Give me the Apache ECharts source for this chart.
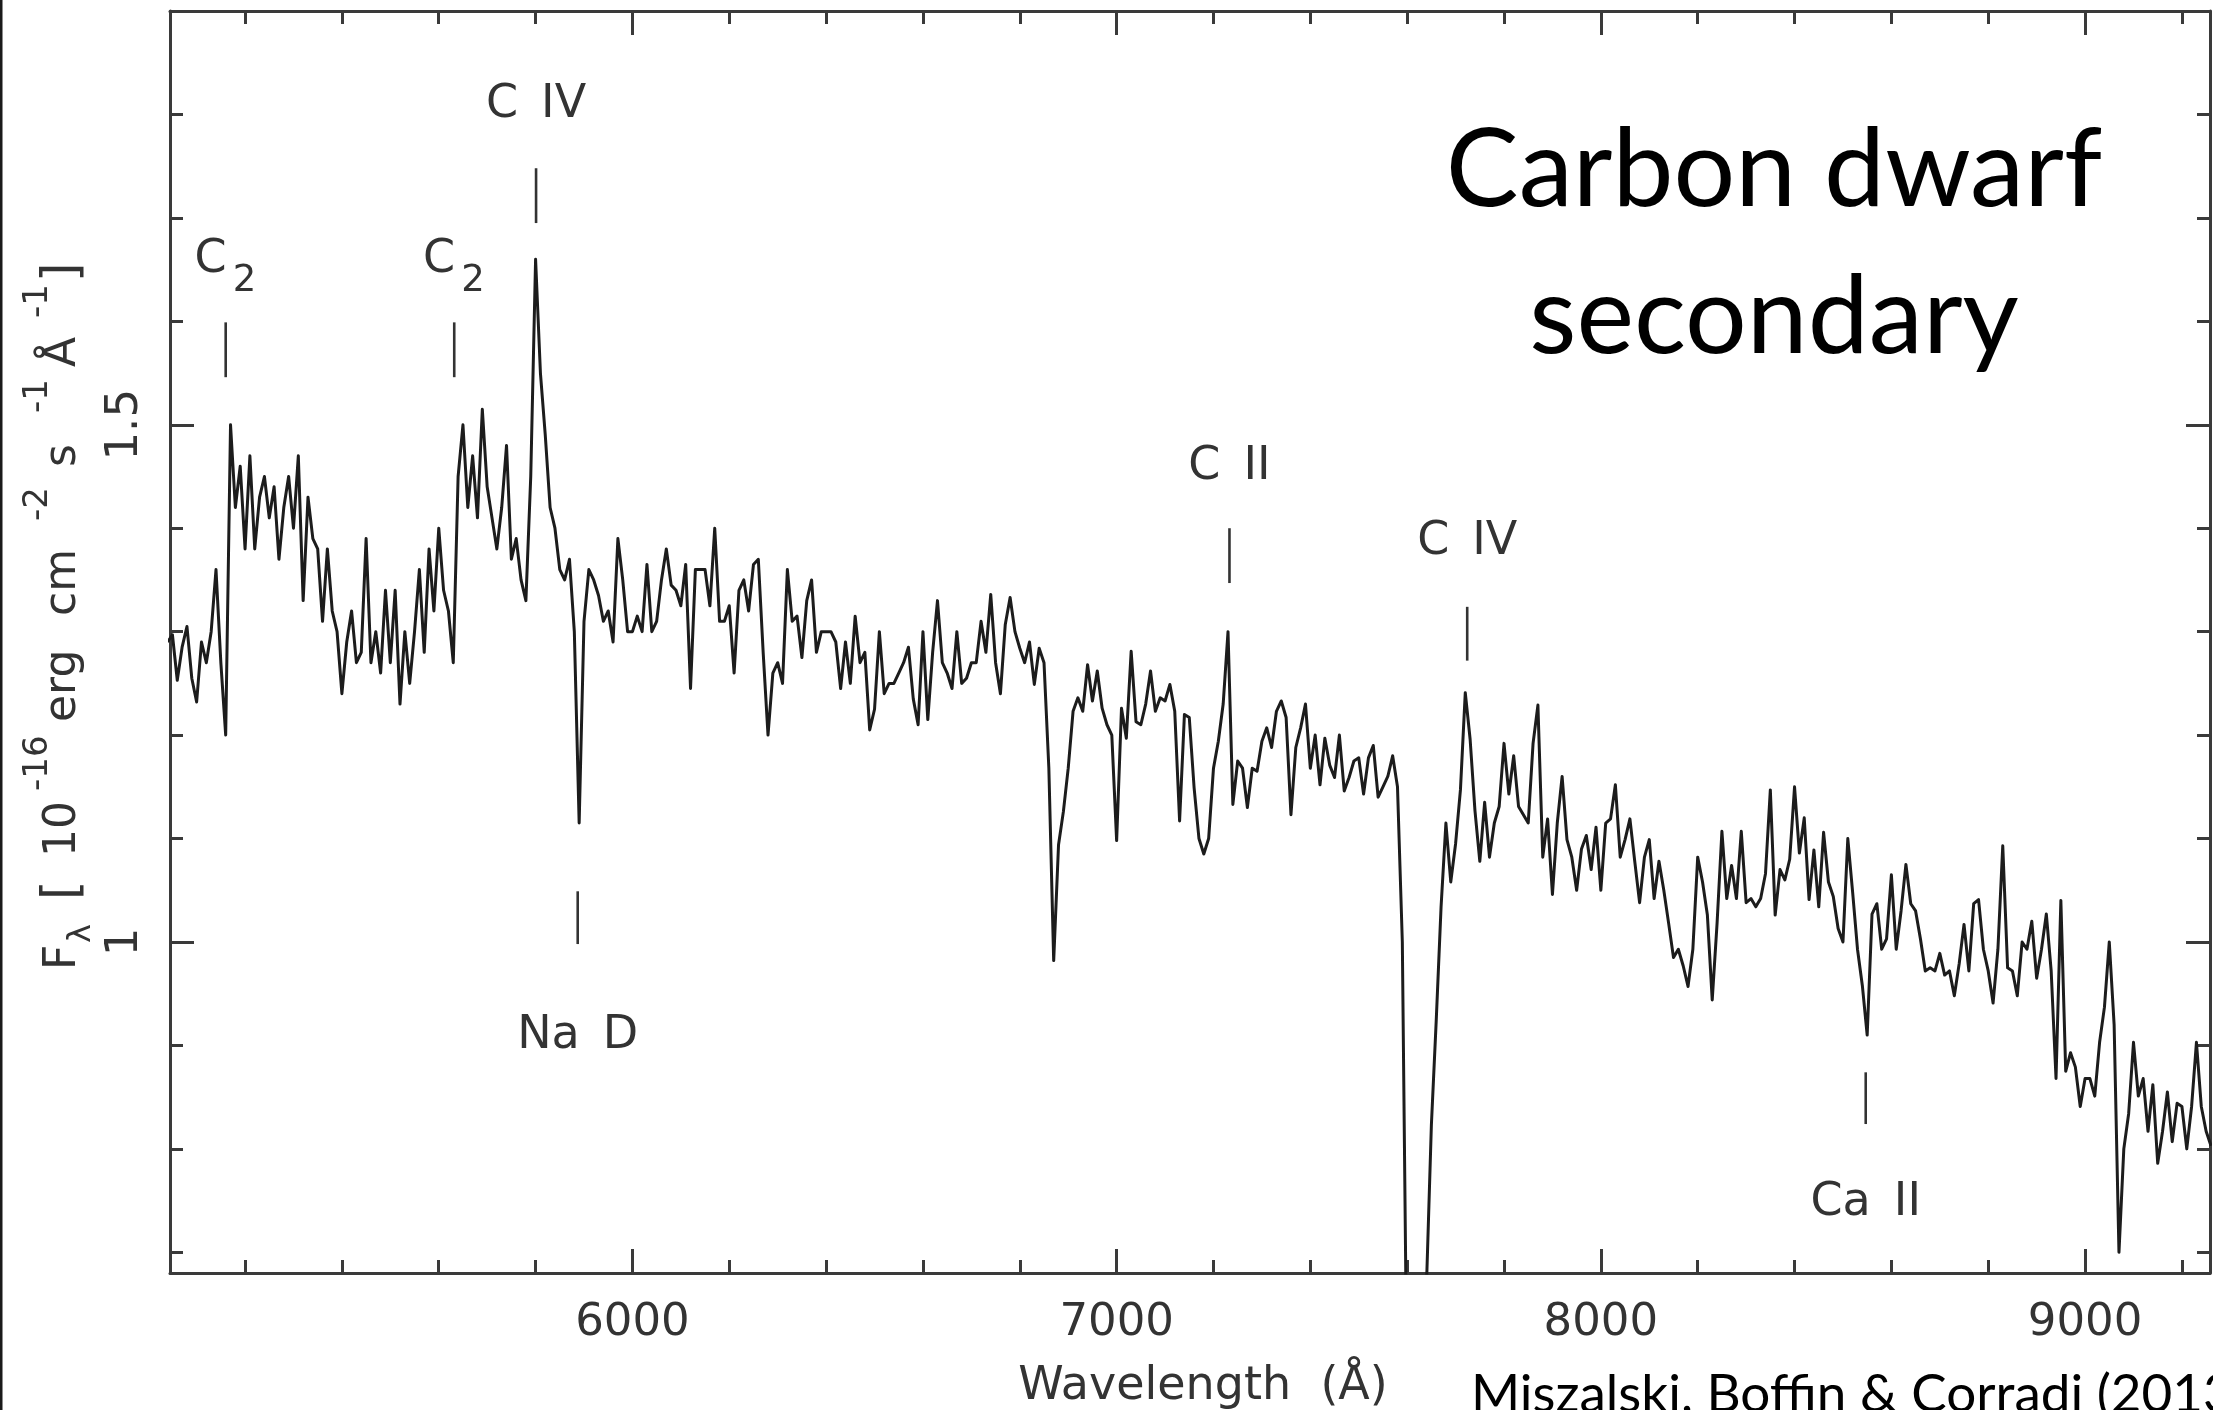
<!DOCTYPE html>
<html>
<head>
<meta charset="utf-8">
<title>Carbon dwarf secondary</title>
<script src="https://cdn.jsdelivr.net/npm/echarts@6/dist/echarts.min.js"></script>
<style>
  html, body { margin: 0; padding: 0; background: #ffffff; }
  #chart { width: 2213px; height: 1410px; }
</style>
</head>
<body>
<div id="chart"></div>
<script>
// Spectrum sampling grid (Angstrom)
const waveStart = 5040;
const waveStep = 10;

// F_lambda in 1e-16 erg cm^-2 s^-1 A^-1, one row per 100 A
const flux = [
  1.29, 1.297, 1.253, 1.285, 1.305, 1.255,                                  // 5040
  1.232, 1.29, 1.27, 1.30, 1.36, 1.27, 1.20, 1.50, 1.42, 1.46,              // 5100
  1.38, 1.47, 1.38, 1.43, 1.45, 1.41, 1.44, 1.37, 1.42, 1.45,               // 5200
  1.40, 1.47, 1.33, 1.43, 1.39, 1.38, 1.31, 1.38, 1.32, 1.30,               // 5300
  1.24, 1.29, 1.32, 1.27, 1.28, 1.39, 1.27, 1.30, 1.26, 1.34,               // 5400
  1.27, 1.34, 1.23, 1.30, 1.25, 1.30, 1.36, 1.28, 1.38, 1.32,               // 5500
  1.40, 1.34, 1.32, 1.27, 1.45, 1.50, 1.42, 1.47, 1.41, 1.515,              // 5600
  1.44, 1.41, 1.38, 1.42, 1.48, 1.37, 1.39, 1.35, 1.33, 1.45,               // 5700
  1.66, 1.55, 1.49, 1.42, 1.40, 1.36, 1.35, 1.37, 1.30, 1.115,              // 5800
  1.31, 1.36, 1.35, 1.335, 1.31, 1.32, 1.29, 1.39, 1.35, 1.30,              // 5900
  1.30, 1.315, 1.30, 1.365, 1.30, 1.31, 1.35, 1.38, 1.345, 1.34,            // 6000
  1.325, 1.365, 1.245, 1.36, 1.36, 1.36, 1.325, 1.40, 1.31, 1.31,           // 6100
  1.325, 1.26, 1.34, 1.35, 1.32, 1.365, 1.37, 1.28, 1.20, 1.26,             // 6200
  1.27, 1.25, 1.36, 1.31, 1.315, 1.275, 1.33, 1.35, 1.28, 1.30,             // 6300
  1.30, 1.30, 1.29, 1.245, 1.29, 1.25, 1.315, 1.27, 1.28, 1.205,            // 6400
  1.225, 1.30, 1.24, 1.25, 1.25, 1.26, 1.27, 1.285, 1.235, 1.21,            // 6500
  1.30, 1.215, 1.28, 1.33, 1.27, 1.26, 1.245, 1.30, 1.25, 1.255,            // 6600
  1.27, 1.27, 1.31, 1.28, 1.336, 1.27, 1.24, 1.307, 1.333, 1.30,            // 6700
  1.284, 1.27, 1.29, 1.249, 1.284, 1.27, 1.168, 0.982, 1.094, 1.126,        // 6800
  1.168, 1.223, 1.236, 1.223, 1.268, 1.233, 1.262, 1.226, 1.21, 1.20,       // 6900
  1.098, 1.226, 1.197, 1.281, 1.213, 1.21, 1.23, 1.262, 1.223, 1.236,       // 7000
  1.233, 1.249, 1.223, 1.117, 1.22, 1.217, 1.149, 1.10, 1.085, 1.10,        // 7100
  1.168, 1.194, 1.23, 1.30, 1.133, 1.175, 1.168, 1.13, 1.168, 1.165,        // 7200
  1.194, 1.207, 1.188, 1.223, 1.233, 1.217, 1.123, 1.188, 1.207, 1.23,      // 7300
  1.168, 1.20, 1.152, 1.197, 1.171, 1.159, 1.20, 1.146, 1.159, 1.175,       // 7400
  1.178, 1.143, 1.178, 1.19, 1.14, 1.15, 1.16, 1.18, 1.15, 1.0,             // 7500
  0.55, 0.5, 0.5, 0.55, 0.67, 0.823, 0.924, 1.034, 1.115, 1.058,            // 7600
  1.095, 1.147, 1.241, 1.196, 1.127, 1.078, 1.135, 1.082, 1.115, 1.131,     // 7700
  1.192, 1.143, 1.18, 1.131, 1.123, 1.115, 1.192, 1.229, 1.082, 1.119,      // 7800
  1.046, 1.115, 1.16, 1.099, 1.082, 1.05, 1.09, 1.103, 1.07, 1.111,         // 7900
  1.05, 1.115, 1.119, 1.152, 1.082, 1.099, 1.119, 1.078, 1.038, 1.082,      // 8000
  1.099, 1.042, 1.078, 1.05, 1.018, 0.985, 0.993, 0.977, 0.957, 0.993,      // 8100
  1.082, 1.058, 1.026, 0.944, 1.018, 1.107, 1.042, 1.074, 1.042, 1.107,     // 8200
  1.038, 1.042, 1.034, 1.042, 1.066, 1.147, 1.026, 1.07, 1.06, 1.08,        // 8300
  1.15, 1.086, 1.12, 1.041, 1.089, 1.034, 1.106, 1.058, 1.044, 1.013,       // 8400
  1.0, 1.10, 1.048, 0.993, 0.958, 0.91, 1.027, 1.037, 0.993, 1.003,         // 8500
  1.065, 0.993, 1.03, 1.075, 1.037, 1.03, 1.003, 0.972, 0.975, 0.972,       // 8600
  0.989, 0.968, 0.972, 0.948, 0.979, 1.017, 0.972, 1.037, 1.041, 0.993,     // 8700
  0.972, 0.941, 0.993, 1.093, 0.975, 0.972, 0.948, 1.0, 0.993, 1.02,        // 8800
  0.965, 0.993, 1.027, 0.972, 0.868, 1.04, 0.875, 0.893, 0.879, 0.841,      // 8900
  0.868, 0.868, 0.851, 0.903, 0.937, 1.0, 0.92, 0.70, 0.80, 0.834,          // 9000
  0.903, 0.851, 0.868, 0.817, 0.862, 0.786, 0.817, 0.855, 0.807, 0.844,     // 9100
  0.841, 0.80, 0.841, 0.903, 0.841, 0.817, 0.803                            // 9200
];

// Axis ticks
const waveMajor = [6000, 7000, 8000, 9000];
const waveMinor = [5200, 5400, 5600, 5800, 6200, 6400, 6600, 6800, 7200, 7400,
                   7600, 7800, 8200, 8400, 8600, 8800, 9200];
const fluxMajor = [1, 1.5];
const fluxMinor = [0.7, 0.8, 0.9, 1.1, 1.2, 1.3, 1.4, 1.6, 1.7, 1.8];

// Identified features
const lineNames = ['C', 'C', 'C\u2002IV', 'Na\u2002D', 'C\u2002II', 'C\u2002IV', 'Ca\u2002II'];
const lineSubscripts = ['2', '2', '', '', '', '', ''];
const lineWaves = [5160, 5632, 5801, 5887, 7233, 7724, 8547];

// Where each feature's tick and label sit (flux units)
const tickLow   = [1.546, 1.546, 1.695, 0.998, 1.347, 1.272, 0.824];
const tickHigh  = [1.599, 1.599, 1.748, 1.049, 1.400, 1.324, 0.874];
const labelAt   = [1.659, 1.659, 1.809, 0.909, 1.459, 1.387, 0.748];

const waveMin = 5045, waveMax = 9258;
const fluxMin = 0.68, fluxMax = 1.9;

const plotFont = 'DejaVu Sans';
const ink = '#333333';
const axisInk = '#3a3a3a';

const spectrum = flux.map((f, i) => [waveStart + i * waveStep, f]);
const features = lineWaves.map((w, i) => [w, tickLow[i], tickHigh[i], labelAt[i], i]);

function xAxisDef(position, ticks, len, withLine, withLabel) {
  return {
    type: 'value', gridIndex: 0, position: position,
    min: waveMin, max: waveMax,
    axisLine: { show: withLine, onZero: false, lineStyle: { color: axisInk, width: 3 } },
    axisTick: { show: true, inside: true, length: len, customValues: ticks,
                lineStyle: { color: axisInk, width: 3 } },
    axisLabel: withLabel ? {
      show: true, customValues: ticks, margin: 28,
      fontFamily: plotFont, fontSize: 45, color: ink,
      formatter: v => String(v)
    } : { show: false },
    splitLine: { show: false },
    minorTick: { show: false }
  };
}
function yAxisDef(position, ticks, len, withLine, withLabel) {
  return {
    type: 'value', gridIndex: 0, position: position,
    min: fluxMin, max: fluxMax,
    axisLine: { show: withLine, onZero: false, lineStyle: { color: axisInk, width: 3 } },
    axisTick: { show: true, inside: true, length: len, customValues: ticks,
                lineStyle: { color: axisInk, width: 3 } },
    axisLabel: withLabel ? {
      show: true, customValues: ticks, margin: 22, rotate: 90,
      fontFamily: plotFont, fontSize: 45, color: ink,
      formatter: v => String(v)
    } : { show: false },
    splitLine: { show: false },
    minorTick: { show: false }
  };
}

const xMain = xAxisDef('bottom', waveMajor, 24, true, true);
xMain.name = 'Wavelength  (\u00c5)';
xMain.nameLocation = 'middle';
xMain.nameGap = 91;
xMain.nameTextStyle = { fontFamily: plotFont, fontSize: 46, color: ink, padding: [0, 0, 0, 26] };

// Rotated y-axis title: pieces laid out along the (rotated) baseline.
// [text, offset along baseline, offset across baseline, font size]
const yTitleParts = [
  ['F', 0, -15, 44], ['\u03bb', 27, 3, 32], ['[', 70, -15, 50], ['10', 113, -15, 44],
  ['-16', 179, -41, 34], ['erg', 248, -15, 44], ['cm', 354, -15, 44],
  ['-2', 449, -41, 34], ['s', 503, -15, 44], ['-1', 557, -41, 34],
  ['\u00c5', 603, -15, 44], ['-1', 652, -41, 34], [']', 688, -15, 50]
];

const chart = echarts.init(document.getElementById('chart'), null, { renderer: 'canvas' });

chart.setOption({
  animation: false,
  backgroundColor: '#ffffff',
  grid: { left: 170, right: 3, top: 11, bottom: 137, containLabel: false, outerBoundsMode: 'none' },
  xAxis: [
    xMain,
    xAxisDef('bottom', waveMinor, 13, false, false),
    xAxisDef('top', waveMajor, 24, true, false),
    xAxisDef('top', waveMinor, 13, false, false)
  ],
  yAxis: [
    yAxisDef('left', fluxMajor, 24, true, true),
    yAxisDef('left', fluxMinor, 13, false, false),
    yAxisDef('right', fluxMajor, 24, true, false),
    yAxisDef('right', fluxMinor, 13, false, false)
  ],
  series: [
    {
      type: 'line',
      xAxisIndex: 0, yAxisIndex: 0,
      data: spectrum,
      showSymbol: false, symbol: 'none',
      clip: true, silent: true,
      lineStyle: { color: '#1c1c1c', width: 3, join: 'round' },
      z: 3
    },
    {
      type: 'custom',
      xAxisIndex: 0, yAxisIndex: 0,
      data: features,
      clip: false, silent: true,
      renderItem: function (params, api) {
        const i = api.value(4);
        const w = api.value(0);
        const a = api.coord([w, api.value(1)]);
        const b = api.coord([w, api.value(2)]);
        const c = api.coord([w, api.value(3)]);
        const kids = [{
          type: 'line',
          shape: { x1: a[0], y1: a[1], x2: b[0], y2: b[1] },
          style: { stroke: ink, lineWidth: 2.6 }
        }];
        if (lineSubscripts[i]) {
          kids.push({ type: 'text', x: c[0] + 1, y: c[1],
            style: { text: lineNames[i], align: 'right', verticalAlign: 'middle',
                     fontFamily: plotFont, fontSize: 46, fill: ink } });
          kids.push({ type: 'text', x: c[0] + 7, y: c[1] + 21,
            style: { text: lineSubscripts[i], align: 'left', verticalAlign: 'middle',
                     fontFamily: plotFont, fontSize: 37, fill: ink } });
        } else {
          kids.push({ type: 'text', x: c[0], y: c[1],
            style: { text: lineNames[i], align: 'center', verticalAlign: 'middle',
                     fontFamily: plotFont, fontSize: 46, fill: ink } });
        }
        return { type: 'group', children: kids };
      },
      z: 4
    }
  ],
  graphic: [
    { type: 'rect', left: 0, top: 0, shape: { x: 0, y: 0, width: 2.5, height: 1410 },
      style: { fill: '#1a1a1a' }, silent: true },
    {
      type: 'group', x: 79, y: 970, rotation: Math.PI / 2, silent: true,
      children: yTitleParts.map(p => ({
        type: 'text', x: p[1], y: p[2],
        style: { text: p[0], align: 'left', verticalAlign: 'middle',
                 fontFamily: plotFont, fontSize: p[3], fill: ink }
      }))
    },
    {
      type: 'text', x: 1774, y: 171, silent: true,
      style: { text: 'Carbon dwarf', align: 'center', verticalAlign: 'middle',
               fontFamily: 'Lato', fontWeight: 400, fontSize: 109, fill: '#000000' }
    },
    {
      type: 'text', x: 1774, y: 318, silent: true,
      style: { text: 'secondary', align: 'center', verticalAlign: 'middle',
               fontFamily: 'Lato', fontWeight: 400, fontSize: 109, fill: '#000000' }
    },
    {
      type: 'text', x: 1471, y: 1395, silent: true,
      style: { text: 'Miszalski, Boffin & Corradi (2013)', align: 'left', verticalAlign: 'middle',
               fontFamily: 'Lato', fontWeight: 400, fontSize: 53, fill: '#000000' }
    }
  ]
});
</script>
</body>
</html>
